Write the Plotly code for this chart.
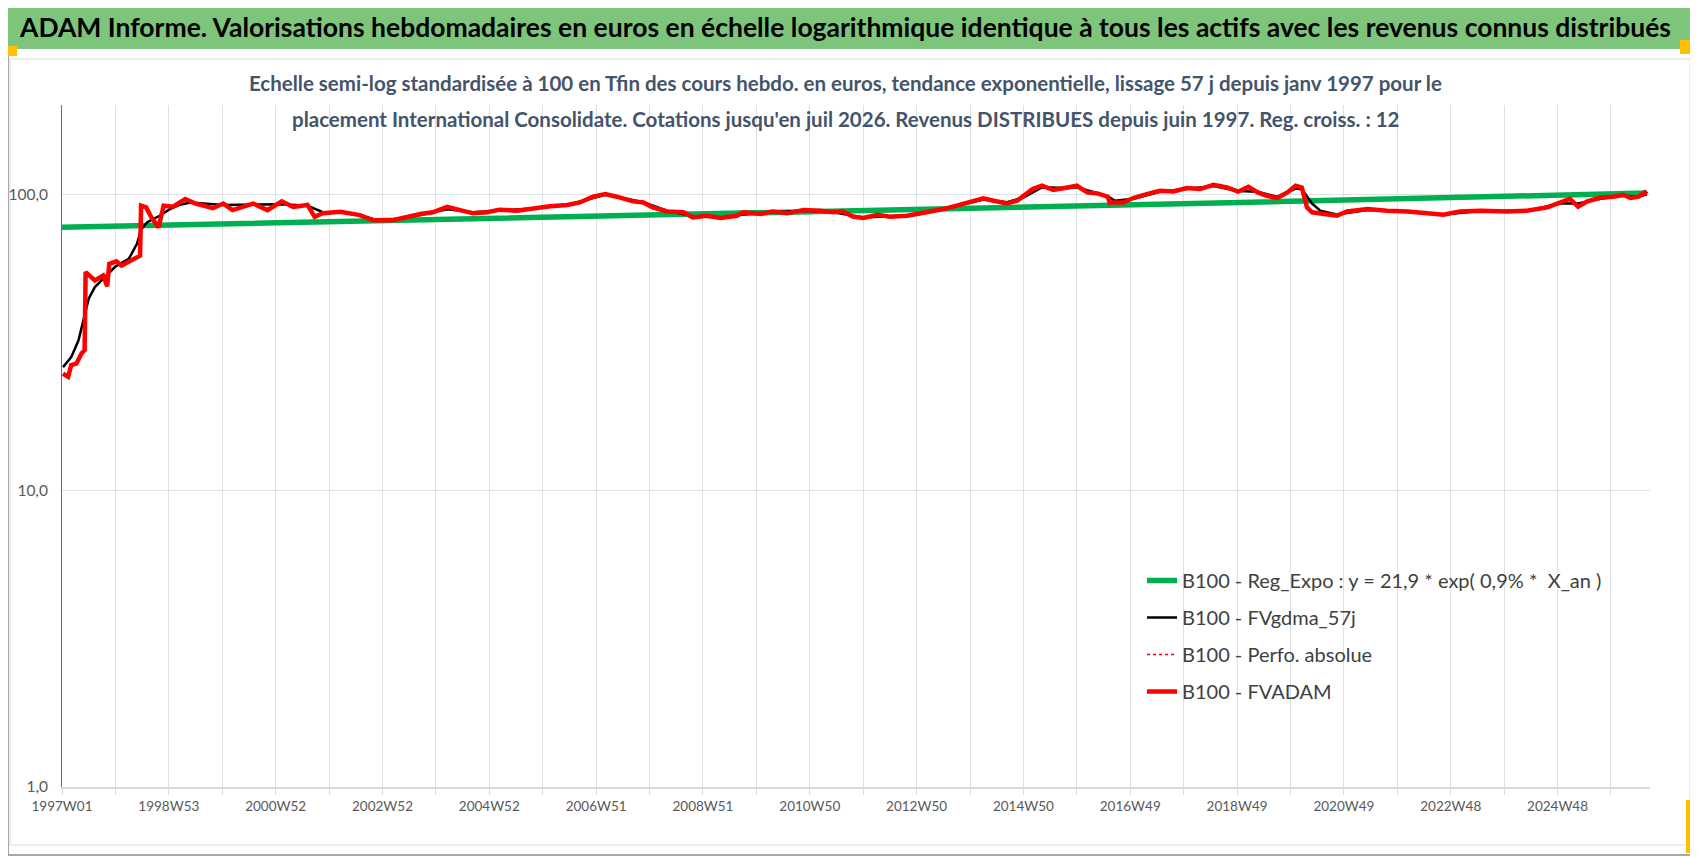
import math
import plotly.graph_objects as go

# weekly index 0 = 1997W01
weeks_red = [1, 6, 9, 14, 19, 22, 23, 32, 40, 44,
             46, 53, 58, 68, 76, 77, 82, 87, 94, 99,
             108, 120, 131, 147, 157, 166, 186, 200, 214, 225,
             239, 246, 254, 271, 290, 303, 322, 349, 361, 375,
             388, 400, 414, 426, 443, 459, 475, 492, 504, 517,
             529, 540, 556, 566, 575, 589, 605, 614, 628, 641,
             657, 663, 680, 692, 706, 722, 738, 751, 760, 770,
             780, 794, 806, 823, 833, 845, 858, 871, 884, 897,
             907, 920, 930, 936, 945, 954, 965, 979, 988, 998,
             1008, 1018, 1020, 1033, 1043, 1056, 1069, 1082, 1095, 1108,
             1121, 1134, 1145, 1155, 1164, 1173, 1183, 1193, 1201, 1207,
             1212, 1217, 1225, 1241, 1251, 1271, 1290, 1310, 1329, 1345,
             1361, 1381, 1407, 1426, 1446, 1459, 1468, 1476, 1485, 1498,
             1510, 1520, 1527, 1535, 1541, 1543]
fvadam = [24.8, 24.2, 26.5, 26.8, 29.0, 29.8, 54.6, 51.2, 53.2, 48.9,
          58.2, 59.4, 57.5, 59.7, 62.0, 91.5, 90.3, 83.5, 77.3, 91.5,
          90.8, 96.3, 92.7, 89.7, 93.0, 88.4, 93.0, 88.4, 94.7, 90.6,
          92.0, 83.9, 86.3, 87.2, 85.0, 81.7, 81.7, 85.8, 86.9, 90.7,
          88.4, 86.2, 86.9, 88.7, 88.0, 89.6, 91.0, 92.0, 93.8, 98.1,
          100.1, 98.1, 94.6, 93.8, 90.3, 87.5, 86.9, 83.5, 84.6, 83.2,
          84.6, 86.9, 85.8, 87.5, 86.2, 88.4, 88.0, 86.9, 87.5, 84.0,
          83.2, 85.3, 84.0, 84.6, 85.8, 88.0, 89.1, 91.5, 93.8, 96.8,
          95.1, 93.1, 95.1, 98.8, 104.1, 106.8, 103.3, 105.4, 106.8, 101.4,
          100.6, 98.1, 93.8, 93.8, 97.1, 100.1, 102.7, 102.2, 104.9, 104.1,
          107.6, 105.4, 102.0, 106.0, 101.4, 98.8, 97.1, 101.4, 106.8, 105.4,
          90.3, 86.9, 86.2, 84.6, 87.5, 89.1, 88.0, 87.5, 86.2, 85.3,
          87.5, 88.0, 87.5, 88.0, 90.3, 93.8, 96.4, 90.7, 94.6, 97.5,
          98.1, 99.6, 97.1, 98.1, 101.4, 100.0]

weeks_black = [1, 9, 16, 22, 26, 32, 42, 52, 65, 69,
               73, 77, 83, 95, 105, 115, 125, 157, 186, 214,
               239, 254, 271, 290, 303, 322, 349, 375, 400, 426,
               459, 492, 517, 529, 540, 566, 589, 614, 641, 663,
               692, 722, 751, 780, 806, 833, 858, 884, 897, 920,
               936, 954, 979, 988, 1008, 1018, 1025, 1043, 1069, 1095,
               1121, 1145, 1164, 1183, 1201, 1207, 1217, 1225, 1241, 1271,
               1310, 1345, 1381, 1426, 1459, 1476, 1498, 1520, 1535, 1543]
fvgdma = [26.1, 28.2, 32.1, 39.0, 44.4, 48.6, 52.5, 57.0, 60.5, 64.0,
          68.0, 76.0, 80.5, 84.6, 89.1, 92.2, 93.8, 92.0, 92.0, 92.5,
          91.5, 87.0, 87.0, 85.0, 82.5, 81.7, 85.0, 89.0, 87.0, 88.0,
          89.5, 92.0, 97.0, 99.5, 98.0, 94.0, 88.0, 84.5, 83.5, 85.5,
          87.0, 88.0, 87.0, 83.5, 84.3, 85.5, 89.0, 93.5, 96.0, 94.0,
          97.5, 105.5, 105.0, 105.5, 100.5, 98.5, 95.0, 96.5, 102.0, 104.0,
          106.5, 102.5, 102.0, 98.0, 104.5, 104.0, 93.0, 88.0, 85.5, 88.5,
          87.5, 85.5, 87.8, 88.0, 93.0, 93.0, 96.5, 98.8, 98.0, 100.0]

weeks_reg = [0, 329, 738, 1147, 1543]
reg_expo = [77.3, 81.4, 87.5, 93.8, 100.9]

tick_labels = ["1997W01", "1998W53", "2000W52", "2002W52", "2004W52", "2006W51",
               "2008W51", "2010W50", "2012W50", "2014W50", "2016W49", "2018W49",
               "2020W49", "2022W48", "2024W48"]

FONT = "Lato, Liberation Sans, sans-serif"
# the page has an 8px body margin, so the figure is 8px smaller than the window
W, H = 1690, 849
OFF = 8
# plot area in window pixels
PL, PR, PT, PB = 62, 1650, 105, 787


def px(x):
    return (x - PL) / (PR - PL)


def py(y):
    return (PB - y) / (PB - PT)


fig = go.Figure()
fig.add_trace(go.Scatter(x=weeks_reg, y=reg_expo, mode='lines', legendgroup='a',
                         name='B100 - Reg_Expo : y = 21,9 * exp( 0,9% *  X_an )',
                         line=dict(color='#00B050', width=5.5)))
fig.add_trace(go.Scatter(x=weeks_black, y=fvgdma, mode='lines', legendgroup='b',
                         name='B100 - FVgdma_57j', line=dict(color='black', width=2.5)))
fig.add_trace(go.Scatter(x=weeks_red, y=fvadam, mode='lines', legendgroup='c',
                         name='B100 - Perfo. absolue',
                         line=dict(color='#FF0000', width=1.5, dash='dot')))
fig.add_trace(go.Scatter(x=weeks_red, y=fvadam, mode='lines', legendgroup='d',
                         name='B100 - FVADAM', line=dict(color='#FF0000', width=4.5)))

grid_vals = list(range(0, 1547, 52))
grid_text = [tick_labels[i // 2] if i % 2 == 0 else '' for i in range(len(grid_vals))]

shapes = [
    dict(type='rect', xref='paper', yref='paper', x0=px(8), x1=px(1692), y0=py(0), y1=py(855),
         line=dict(color='#8C8C8C', width=1.5), layer='below'),
    dict(type='rect', xref='paper', yref='paper', x0=px(8), x1=px(1692), y0=py(4), y1=py(49),
         fillcolor='#7DC57A', line=dict(width=0), layer='below'),
    dict(type='rect', xref='paper', yref='paper', x0=px(10), x1=px(1690), y0=py(59), y1=py(845),
         line=dict(color='#DCDCDC', width=1), layer='below'),
    dict(type='rect', xref='paper', yref='paper', x0=px(8), x1=px(17), y0=py(46), y1=py(56),
         fillcolor='#FFC000', line=dict(width=0)),
    dict(type='rect', xref='paper', yref='paper', x0=px(1680), x1=px(1694), y0=py(40), y1=py(54),
         fillcolor='#FFC000', line=dict(width=0)),
    dict(type='rect', xref='paper', yref='paper', x0=px(1686), x1=px(1696), y0=py(800), y1=py(853),
         fillcolor='#FFC000', line=dict(width=0)),
]

annotations = [
    dict(xref='paper', yref='paper', x=px(845), y=py(27), xanchor='center', yanchor='middle',
         showarrow=False,
         text='<b>ADAM Informe. Valorisations hebdomadaires en euros en échelle logarithmique '
              'identique à tous les actifs avec les revenus connus distribués</b>',
         font=dict(size=26.5, color='black', family=FONT)),
    dict(xref='paper', yref='paper', x=px(845), y=py(83), xanchor='center', yanchor='middle',
         showarrow=False,
         text='<b>Echelle semi-log standardisée à 100 en Tfin des cours hebdo. en euros, tendance '
              'exponentielle, lissage 57 j depuis janv 1997 pour le</b>',
         font=dict(size=20.5, color='#44546A', family=FONT)),
    dict(xref='paper', yref='paper', x=px(845), y=py(119), xanchor='center', yanchor='middle',
         showarrow=False,
         text="<b>placement International Consolidate. Cotations jusqu'en juil 2026. Revenus "
              "DISTRIBUES depuis juin 1997. Reg. croiss. : 12</b>",
         font=dict(size=20.5, color='#44546A', family=FONT)),
]

fig.update_layout(
    width=W, height=H,
    margin=dict(l=PL - OFF, r=W + OFF - PR, t=PT - OFF, b=H + OFF - PB),
    paper_bgcolor='white', plot_bgcolor='white',
    font=dict(family=FONT, color='#595959'),
    shapes=shapes,
    annotations=annotations,
    showlegend=True,
    legend=dict(x=px(1142), y=py(561), xanchor='left', yanchor='top',
                bgcolor='rgba(0,0,0,0)', tracegroupgap=8,
                font=dict(size=20, color='#404040', family=FONT)),
    xaxis=dict(range=[0, 1546], tickvals=grid_vals, ticktext=grid_text,
               showgrid=True, gridcolor='#DDE1E7', gridwidth=1,
               showline=True, linecolor='#D9D9D9', linewidth=1.5,
               ticks='outside', ticklen=6, tickcolor='#D9D9D9', automargin=False,
               tickfont=dict(size=13.5, color='#595959'), zeroline=False),
    yaxis=dict(type='log', range=[0, math.log10(200)], tickvals=[1, 10, 100],
               ticktext=['1,0', '10,0', '100,0'],
               showgrid=True, gridcolor='#DDE1E7', gridwidth=1,
               showline=True, linecolor='#4472C4', linewidth=1,
               ticks='', ticklabelstandoff=10, automargin=False,
               tickfont=dict(size=15.5, color='#595959'), zeroline=False),
)

fig.write_html("out.html")
